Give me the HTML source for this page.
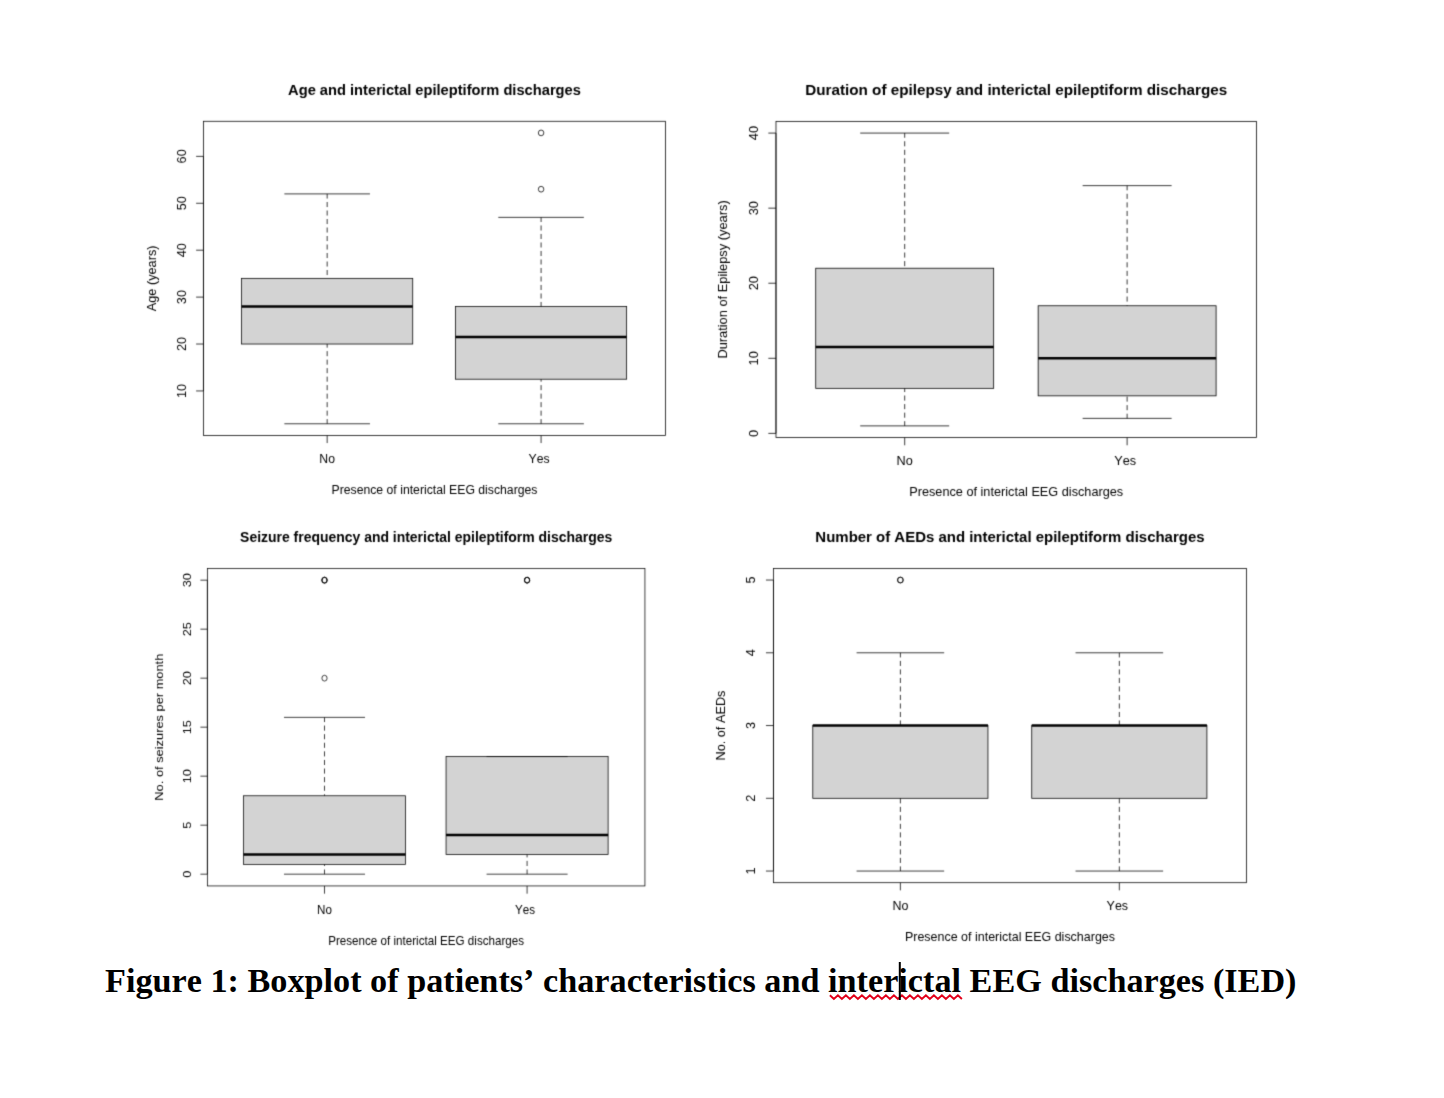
<!DOCTYPE html>
<html><head><meta charset="utf-8"><title>Figure 1</title>
<style>
html,body{margin:0;padding:0;background:#fff;}
body{width:1444px;height:1098px;overflow:hidden;font-family:"Liberation Sans",sans-serif;}
svg{display:block;}
text{font-kerning:none;}
</style></head>
<body>
<svg width="1444" height="1098" viewBox="0 0 1444 1098">
<defs><filter id="soft" x="-2%" y="-2%" width="104%" height="104%" color-interpolation-filters="sRGB"><feConvolveMatrix order="3" kernelMatrix="0.0196 0.1008 0.0196 0.1008 0.5184 0.1008 0.0196 0.1008 0.0196" divisor="1" edgeMode="none" preserveAlpha="false"/></filter></defs>
<rect width="1444" height="1098" fill="#fff"/>
<g filter="url(#soft)">
<g stroke="#000" stroke-width="0.77" fill="none">
<rect x="241.61" y="278.35" width="171.12" height="65.68" fill="#d3d3d3"/>
<line x1="241.61" x2="412.73" y1="306.49" y2="306.49" stroke-width="2.45"/>
<line x1="327.17" x2="327.17" y1="193.9" y2="278.35" stroke-dasharray="5.05 3.45" stroke-dashoffset="0.4"/>
<line x1="327.17" x2="327.17" y1="423.78" y2="344.02" stroke-dasharray="5.05 3.45" stroke-dashoffset="0.4"/>
<line x1="284.39" x2="369.95" y1="423.78" y2="423.78"/>
<line x1="284.39" x2="369.95" y1="193.9" y2="193.9"/>
<rect x="455.52" y="306.49" width="171.12" height="72.72" fill="#d3d3d3"/>
<line x1="455.52" x2="626.64" y1="336.99" y2="336.99" stroke-width="2.45"/>
<line x1="541.08" x2="541.08" y1="217.36" y2="306.49" stroke-dasharray="5.05 3.45" stroke-dashoffset="0.4"/>
<line x1="541.08" x2="541.08" y1="423.78" y2="379.21" stroke-dasharray="5.05 3.45" stroke-dashoffset="0.4"/>
<line x1="498.3" x2="583.86" y1="423.78" y2="423.78"/>
<line x1="498.3" x2="583.86" y1="217.36" y2="217.36"/>
<ellipse cx="541.08" cy="189.21" rx="2.75" ry="2.87"/>
<ellipse cx="541.08" cy="132.91" rx="2.75" ry="2.87"/>
<rect x="203.46" y="121.28" width="462.03" height="314.13"/>
<line x1="196.11" x2="203.46" y1="390.94" y2="390.94"/>
<line x1="196.11" x2="203.46" y1="344.02" y2="344.02"/>
<line x1="196.11" x2="203.46" y1="297.11" y2="297.11"/>
<line x1="196.11" x2="203.46" y1="250.2" y2="250.2"/>
<line x1="196.11" x2="203.46" y1="203.28" y2="203.28"/>
<line x1="196.11" x2="203.46" y1="156.37" y2="156.37"/>
<line x1="203.46" x2="203.46" y1="390.94" y2="156.37"/>
<line x1="327.17" x2="327.17" y1="435.41" y2="443.06"/>
<line x1="541.08" x2="541.08" y1="435.41" y2="443.06"/>
</g>
<g fill="#000" font-family="Liberation Sans, sans-serif">
<text transform="translate(434.48 95.38) scale(1.02 1.06)" font-size="14.4" font-weight="bold" text-anchor="middle">Age and interictal epileptiform discharges</text>
<text transform="translate(327.17 462.96) scale(1.02 1.06)" font-size="12" text-anchor="middle">No</text>
<text transform="translate(539.08 462.96) scale(1.02 1.06)" font-size="12" text-anchor="middle">Yes</text>
<text transform="translate(434.48 493.58) scale(1.02 1.06)" font-size="12" text-anchor="middle">Presence of interictal EEG discharges</text>
<text transform="translate(185.83 390.94) scale(1.02 1.06) rotate(-90)" font-size="12" text-anchor="middle">10</text>
<text transform="translate(185.83 344.02) scale(1.02 1.06) rotate(-90)" font-size="12" text-anchor="middle">20</text>
<text transform="translate(185.83 297.11) scale(1.02 1.06) rotate(-90)" font-size="12" text-anchor="middle">30</text>
<text transform="translate(185.83 250.2) scale(1.02 1.06) rotate(-90)" font-size="12" text-anchor="middle">40</text>
<text transform="translate(185.83 203.28) scale(1.02 1.06) rotate(-90)" font-size="12" text-anchor="middle">50</text>
<text transform="translate(185.83 156.37) scale(1.02 1.06) rotate(-90)" font-size="12" text-anchor="middle">60</text>
<text transform="translate(156.45 278.35) scale(1.02 1.06) rotate(-90)" font-size="12" text-anchor="middle">Age (years)</text>
</g>
</g>
<g filter="url(#soft)">
<g stroke="#000" stroke-width="0.78" fill="none">
<rect x="815.73" y="268.22" width="177.94" height="120.12" fill="#d3d3d3"/>
<line x1="815.73" x2="993.67" y1="347.05" y2="347.05" stroke-width="2.46"/>
<line x1="904.7" x2="904.7" y1="133.08" y2="268.22" stroke-dasharray="5.08 3.48" stroke-dashoffset="0.4"/>
<line x1="904.7" x2="904.7" y1="425.88" y2="388.34" stroke-dasharray="5.08 3.48" stroke-dashoffset="0.4"/>
<line x1="860.21" x2="949.18" y1="425.88" y2="425.88"/>
<line x1="860.21" x2="949.18" y1="133.08" y2="133.08"/>
<rect x="1038.15" y="305.76" width="177.94" height="90.09" fill="#d3d3d3"/>
<line x1="1038.15" x2="1216.09" y1="358.31" y2="358.31" stroke-width="2.46"/>
<line x1="1127.12" x2="1127.12" y1="185.64" y2="305.76" stroke-dasharray="5.08 3.48" stroke-dashoffset="0.4"/>
<line x1="1127.12" x2="1127.12" y1="418.37" y2="395.85" stroke-dasharray="5.08 3.48" stroke-dashoffset="0.4"/>
<line x1="1082.64" x2="1171.61" y1="418.37" y2="418.37"/>
<line x1="1082.64" x2="1171.61" y1="185.64" y2="185.64"/>
<rect x="775.99" y="121.37" width="480.44" height="316.22"/>
<line x1="768.35" x2="775.99" y1="433.39" y2="433.39"/>
<line x1="768.35" x2="775.99" y1="358.31" y2="358.31"/>
<line x1="768.35" x2="775.99" y1="283.23" y2="283.23"/>
<line x1="768.35" x2="775.99" y1="208.16" y2="208.16"/>
<line x1="768.35" x2="775.99" y1="133.08" y2="133.08"/>
<line x1="775.99" x2="775.99" y1="433.39" y2="133.08"/>
<line x1="904.7" x2="904.7" y1="437.59" y2="445.29"/>
<line x1="1127.12" x2="1127.12" y1="437.59" y2="445.29"/>
</g>
<g fill="#000" font-family="Liberation Sans, sans-serif">
<text transform="translate(1016.21 95.3) scale(1.06 1.07)" font-size="14.4" font-weight="bold" text-anchor="middle">Duration of epilepsy and interictal epileptiform discharges</text>
<text transform="translate(904.7 465.33) scale(1.06 1.07)" font-size="12" text-anchor="middle">No</text>
<text transform="translate(1125.12 465.33) scale(1.06 1.07)" font-size="12" text-anchor="middle">Yes</text>
<text transform="translate(1016.21 496.15) scale(1.06 1.07)" font-size="12" text-anchor="middle">Presence of interictal EEG discharges</text>
<text transform="translate(757.66 433.39) scale(1.06 1.07) rotate(-90)" font-size="12" text-anchor="middle">0</text>
<text transform="translate(757.66 358.31) scale(1.06 1.07) rotate(-90)" font-size="12" text-anchor="middle">10</text>
<text transform="translate(757.66 283.23) scale(1.06 1.07) rotate(-90)" font-size="12" text-anchor="middle">20</text>
<text transform="translate(757.66 208.16) scale(1.06 1.07) rotate(-90)" font-size="12" text-anchor="middle">30</text>
<text transform="translate(757.66 133.08) scale(1.06 1.07) rotate(-90)" font-size="12" text-anchor="middle">40</text>
<text transform="translate(727.11 279.48) scale(1.06 1.07) rotate(-90)" font-size="12" text-anchor="middle">Duration of Epilepsy (years)</text>
</g>
</g>
<g filter="url(#soft)">
<g stroke="#000" stroke-width="0.75" fill="none">
<rect x="243.47" y="795.77" width="162.06" height="68.6" fill="#d3d3d3"/>
<line x1="243.47" x2="405.54" y1="854.58" y2="854.58" stroke-width="2.47"/>
<line x1="324.51" x2="324.51" y1="717.37" y2="795.77" stroke-dasharray="5.1 3.49" stroke-dashoffset="0.4"/>
<line x1="324.51" x2="324.51" y1="874.18" y2="864.38" stroke-dasharray="5.1 3.49" stroke-dashoffset="0.4"/>
<line x1="283.99" x2="365.02" y1="874.18" y2="874.18"/>
<line x1="283.99" x2="365.02" y1="717.37" y2="717.37"/>
<ellipse cx="324.51" cy="678.17" rx="2.61" ry="2.9"/>
<ellipse cx="324.51" cy="580.16" rx="2.61" ry="2.9"/>
<ellipse cx="324.51" cy="580.16" rx="2.61" ry="2.9"/>
<ellipse cx="324.51" cy="580.16" rx="2.61" ry="2.9"/>
<rect x="446.05" y="756.57" width="162.06" height="98.01" fill="#d3d3d3"/>
<line x1="446.05" x2="608.12" y1="834.98" y2="834.98" stroke-width="2.47"/>
<line x1="527.08" x2="527.08" y1="874.18" y2="854.58" stroke-dasharray="5.1 3.49" stroke-dashoffset="0.4"/>
<line x1="486.57" x2="567.6" y1="874.18" y2="874.18"/>
<line x1="486.57" x2="567.6" y1="756.57" y2="756.57"/>
<ellipse cx="527.08" cy="580.16" rx="2.61" ry="2.9"/>
<ellipse cx="527.08" cy="580.16" rx="2.61" ry="2.9"/>
<ellipse cx="527.08" cy="580.16" rx="2.61" ry="2.9"/>
<rect x="207.36" y="568.4" width="437.57" height="317.54"/>
<line x1="200.4" x2="207.36" y1="874.18" y2="874.18"/>
<line x1="200.4" x2="207.36" y1="825.18" y2="825.18"/>
<line x1="200.4" x2="207.36" y1="776.17" y2="776.17"/>
<line x1="200.4" x2="207.36" y1="727.17" y2="727.17"/>
<line x1="200.4" x2="207.36" y1="678.17" y2="678.17"/>
<line x1="200.4" x2="207.36" y1="629.16" y2="629.16"/>
<line x1="200.4" x2="207.36" y1="580.16" y2="580.16"/>
<line x1="207.36" x2="207.36" y1="874.18" y2="580.16"/>
<line x1="324.51" x2="324.51" y1="885.94" y2="893.68"/>
<line x1="527.08" x2="527.08" y1="885.94" y2="893.68"/>
</g>
<g fill="#000" font-family="Liberation Sans, sans-serif">
<text transform="translate(426.14 542.22) scale(0.97 1.07)" font-size="14.4" font-weight="bold" text-anchor="middle">Seizure frequency and interictal epileptiform discharges</text>
<text transform="translate(324.51 913.79) scale(0.97 1.07)" font-size="12" text-anchor="middle">No</text>
<text transform="translate(525.08 913.79) scale(0.97 1.07)" font-size="12" text-anchor="middle">Yes</text>
<text transform="translate(426.14 944.74) scale(0.97 1.07)" font-size="12" text-anchor="middle">Presence of interictal EEG discharges</text>
<text transform="translate(190.66 874.18) scale(0.97 1.07) rotate(-90)" font-size="12" text-anchor="middle">0</text>
<text transform="translate(190.66 825.18) scale(0.97 1.07) rotate(-90)" font-size="12" text-anchor="middle">5</text>
<text transform="translate(190.66 776.17) scale(0.97 1.07) rotate(-90)" font-size="12" text-anchor="middle">10</text>
<text transform="translate(190.66 727.17) scale(0.97 1.07) rotate(-90)" font-size="12" text-anchor="middle">15</text>
<text transform="translate(190.66 678.17) scale(0.97 1.07) rotate(-90)" font-size="12" text-anchor="middle">20</text>
<text transform="translate(190.66 629.16) scale(0.97 1.07) rotate(-90)" font-size="12" text-anchor="middle">25</text>
<text transform="translate(190.66 580.16) scale(0.97 1.07) rotate(-90)" font-size="12" text-anchor="middle">30</text>
<text transform="translate(162.84 727.17) scale(0.97 1.07) rotate(-90)" font-size="12" text-anchor="middle">No. of seizures per month</text>
</g>
</g>
<g filter="url(#soft)">
<g stroke="#000" stroke-width="0.77" fill="none">
<rect x="812.79" y="725.55" width="175.17" height="72.75" fill="#d3d3d3"/>
<line x1="812.79" x2="987.96" y1="725.55" y2="725.55" stroke-width="2.45"/>
<line x1="900.38" x2="900.38" y1="652.79" y2="725.55" stroke-dasharray="5.05 3.46" stroke-dashoffset="0.4"/>
<line x1="900.38" x2="900.38" y1="871.05" y2="798.3" stroke-dasharray="5.05 3.46" stroke-dashoffset="0.4"/>
<line x1="856.58" x2="944.17" y1="871.05" y2="871.05"/>
<line x1="856.58" x2="944.17" y1="652.79" y2="652.79"/>
<ellipse cx="900.38" cy="580.04" rx="2.82" ry="2.87"/>
<ellipse cx="900.38" cy="580.04" rx="2.82" ry="2.87"/>
<rect x="1031.75" y="725.55" width="175.17" height="72.75" fill="#d3d3d3"/>
<line x1="1031.75" x2="1206.92" y1="725.55" y2="725.55" stroke-width="2.45"/>
<line x1="1119.33" x2="1119.33" y1="652.79" y2="725.55" stroke-dasharray="5.05 3.46" stroke-dashoffset="0.4"/>
<line x1="1119.33" x2="1119.33" y1="871.05" y2="798.3" stroke-dasharray="5.05 3.46" stroke-dashoffset="0.4"/>
<line x1="1075.54" x2="1163.13" y1="871.05" y2="871.05"/>
<line x1="1075.54" x2="1163.13" y1="652.79" y2="652.79"/>
<rect x="773.48" y="568.4" width="472.95" height="314.29"/>
<line x1="765.96" x2="773.48" y1="871.05" y2="871.05"/>
<line x1="765.96" x2="773.48" y1="798.3" y2="798.3"/>
<line x1="765.96" x2="773.48" y1="725.55" y2="725.55"/>
<line x1="765.96" x2="773.48" y1="652.79" y2="652.79"/>
<line x1="765.96" x2="773.48" y1="580.04" y2="580.04"/>
<line x1="773.48" x2="773.48" y1="871.05" y2="580.04"/>
<line x1="900.38" x2="900.38" y1="882.69" y2="890.35"/>
<line x1="1119.33" x2="1119.33" y1="882.69" y2="890.35"/>
</g>
<g fill="#000" font-family="Liberation Sans, sans-serif">
<text transform="translate(1009.96 542.49) scale(1.04 1.06)" font-size="14.4" font-weight="bold" text-anchor="middle">Number of AEDs and interictal epileptiform discharges</text>
<text transform="translate(900.38 910.26) scale(1.04 1.06)" font-size="12" text-anchor="middle">No</text>
<text transform="translate(1117.33 910.26) scale(1.04 1.06)" font-size="12" text-anchor="middle">Yes</text>
<text transform="translate(1009.96 940.89) scale(1.04 1.06)" font-size="12" text-anchor="middle">Presence of interictal EEG discharges</text>
<text transform="translate(755.44 871.05) scale(1.04 1.06) rotate(-90)" font-size="12" text-anchor="middle">1</text>
<text transform="translate(755.44 798.3) scale(1.04 1.06) rotate(-90)" font-size="12" text-anchor="middle">2</text>
<text transform="translate(755.44 725.55) scale(1.04 1.06) rotate(-90)" font-size="12" text-anchor="middle">3</text>
<text transform="translate(755.44 652.79) scale(1.04 1.06) rotate(-90)" font-size="12" text-anchor="middle">4</text>
<text transform="translate(755.44 580.04) scale(1.04 1.06) rotate(-90)" font-size="12" text-anchor="middle">5</text>
<text transform="translate(725.36 725.55) scale(1.04 1.06) rotate(-90)" font-size="12" text-anchor="middle">No. of AEDs</text>
</g>
</g>
<text x="105" y="992" font-family="Liberation Serif, serif" font-weight="bold" font-size="34.3" fill="#000" textLength="1191.5" lengthAdjust="spacingAndGlyphs">Figure 1: Boxplot of patients’ characteristics and interictal EEG discharges (IED)</text>
<polyline points="829.9,995.2 833.9,999.0 837.9,995.2 841.9,999.0 845.9,995.2 849.9,999.0 853.9,995.2 857.9,999.0 861.9,995.2 865.9,999.0 869.9,995.2 873.9,999.0 877.9,995.2 881.9,999.0 885.9,995.2 889.9,999.0 893.9,995.2 897.9,999.0 901.9,995.2 905.9,999.0 909.9,995.2 913.9,999.0 917.9,995.2 921.9,999.0 925.9,995.2 929.9,999.0 933.9,995.2 937.9,999.0 941.9,995.2 945.9,999.0 949.9,995.2 953.9,999.0 957.9,995.2 961.9,999.0" fill="none" stroke="#e2001a" stroke-width="1.9" stroke-linejoin="miter"/>
<rect x="898.8" y="962" width="2" height="38" fill="#000"/>
</svg>
</body></html>
